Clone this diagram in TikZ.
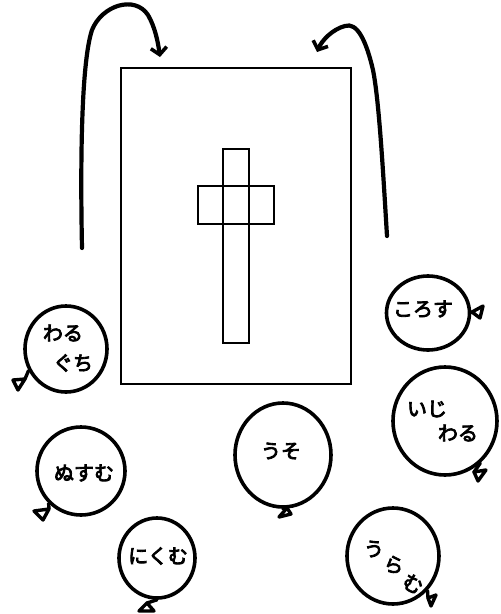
\documentclass[tikz,border=0pt]{standalone}
\usepackage{fontspec}
\newfontfamily\jp[FakeBold=4]{Noto Sans CJK JP}
\usetikzlibrary{shapes.geometric,arrows.meta}
\begin{document}
\begin{tikzpicture}[x=1pt,y=-1pt,
  boardbox/.style={draw, line width=2pt, inner sep=0pt},
  balloon/.style={draw, ellipse, line width=3.6pt, inner sep=0pt},
  knot/.style={draw, line width=3.4pt, line join=round, line cap=round},
  curvearrow/.style={line width=4.2pt, line cap=round, -{Straight Barb[length=7pt,width=16pt,line width=3.6pt]}},
  lbl/.style={font=\jp\fontsize{20}{22}\selectfont, inner sep=0pt}]
\useasboundingbox (0,0) rectangle (501,614);
% board and cross
\node[boardbox, minimum width=230pt, minimum height=316pt] (board) at (236,226) {};
\node[boardbox, minimum width=26pt, minimum height=194pt] (vbar) at (236,246) {};
\node[boardbox, minimum width=76pt, minimum height=38pt] (hbar) at (236,205) {};
% curved arrows
\coordinate (la) at (82,248);
\coordinate (lt) at (160,57);
\coordinate (ra) at (387,236);
\coordinate (rt) at (317,52);
\draw[curvearrow] (la) .. controls (80,150) and (82,60) .. (92,30) .. controls (102,5) and (135,-5) .. (148,15) .. controls (155,27) and (158,42) .. (lt);
\draw[curvearrow] (ra) .. controls (383,170) and (379,100) .. (373,70) .. controls (366,40) and (357,22) .. (345,26) .. controls (333,29) and (322,40) .. (rt);
% balloons
\node[balloon, minimum width=82pt, minimum height=86pt] (b1) at (66,349) {};
\node[balloon, minimum width=88pt, minimum height=88pt] (b2) at (81,471) {};
\node[balloon, minimum width=76pt, minimum height=80pt] (b3) at (157,558) {};
\node[balloon, minimum width=96pt, minimum height=104pt] (b4) at (283,455) {};
\node[balloon, minimum width=83pt, minimum height=74pt] (b5) at (428,313) {};
\node[balloon, minimum width=104pt, minimum height=108pt] (b6) at (445,421) {};
\node[balloon, minimum width=92pt, minimum height=96pt] (b7) at (393,556) {};
% knots
\draw[knot] (13,380) -- (18,390) -- (25,379) -- cycle;
\draw[knot] (25,379) -- (b1.210);
\draw[knot] (34,511) -- (43,520) -- (49,509) -- cycle;
\draw[knot] (49,509) -- (b2.225);
\draw[knot] (139,611) -- (147,603) -- (154,611) -- cycle;
\draw[knot] (147,603) -- (b3.south);
\draw[knot] (279,517) -- (291,514) -- (287,508) -- cycle;
\draw[knot] (287,508) -- (b4.south);
\draw[knot] (472,312) -- (483,306) -- (480,318) -- cycle;
\draw[knot] (472,312) -- (b5.east);
\draw[knot] (474,472) -- (486,470) -- (478,481) -- cycle;
\draw[knot] (474,472) -- (b6.-50);
\draw[knot] (428,598) -- (436,595) -- (431,606) -- cycle;
\draw[knot] (428,598) -- (b7.-45);
% labels
\node[lbl] (t1a) at (63,333) {わる};
\node[lbl] (t1b) at (73,363) {ぐち};
\node[lbl] (t2) at (84,473) {ぬすむ};
\node[lbl] (t3) at (158,556) {にくむ};
\node[lbl] (t4) at (281,451) {うそ};
\node[lbl] (t5) at (423,309) {ころす};
\node[lbl] (t6a) at (427,409) {いじ};
\node[lbl] (t6b) at (458,433) {わる};
\node[lbl] (t7a) at (374,549) {う};
\node[lbl, rotate=-15] (t7b) at (394,565) {ら};
\node[lbl, rotate=-30] (t7c) at (413,584) {む};
\end{tikzpicture}
\end{document}
